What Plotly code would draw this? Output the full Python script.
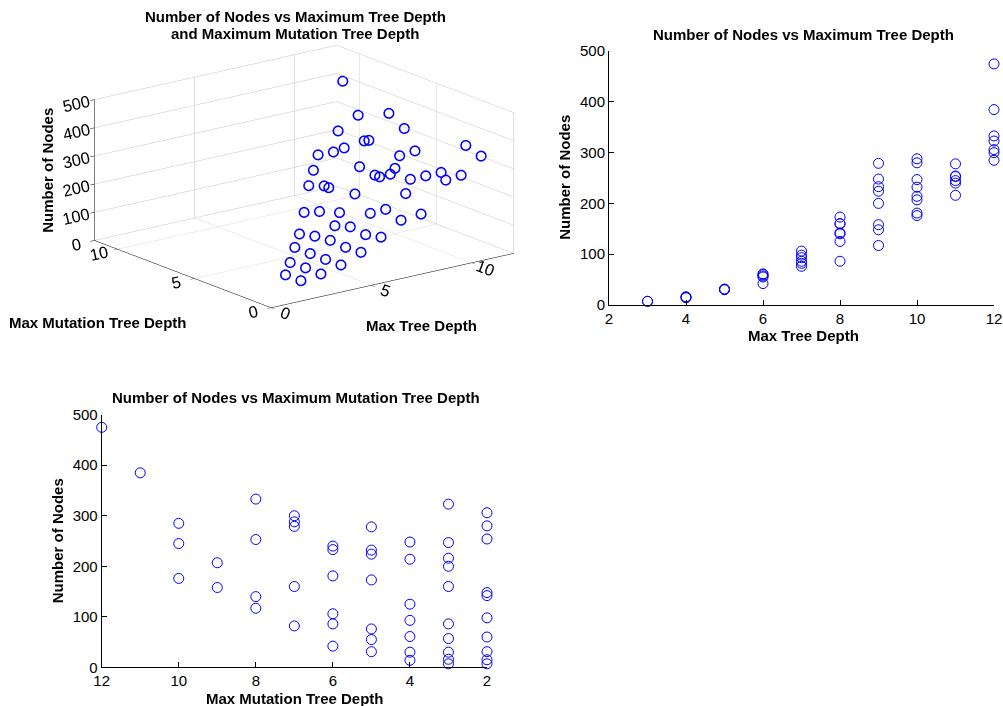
import plotly.graph_objects as go

# ---- data ----
tree_depth = [3, 3,
              4, 4, 4,
              5, 5, 5, 5,
              6, 6, 6, 6, 6,
              7, 7, 7, 7, 7, 7,
              8, 8, 8, 8, 8, 8, 8,
              9, 9, 9, 9, 9, 9, 9, 9,
              10, 10, 10, 10, 10, 10, 10, 10,
              11, 11, 11, 11, 11, 11,
              12, 12, 12, 12, 12, 12, 12]
mutation_depth = [2, 3,
                  2, 3, 4,
                  2, 3, 4, 5,
                  2, 3, 4, 5, 6,
                  2, 3, 4, 5, 6, 7,
                  2, 3, 4, 5, 6, 7, 8,
                  2, 3, 4, 5, 6, 7, 8, 9,
                  2, 3, 4, 5, 6, 7, 9, 10,
                  2, 3, 5, 6, 8, 10,
                  2, 3, 7, 8, 10, 11, 12]
num_nodes = [7, 7,
             15, 16, 14,
             31, 30, 30, 31,
             60, 57, 61, 55, 42,
             98, 86, 93, 76, 106, 82,
             142, 160, 125, 173, 86, 160, 140,
             148, 200, 248, 224, 233, 279, 117, 158,
             280, 247, 214, 232, 181, 288, 207, 176,
             254, 216, 278, 240, 253, 245,
             306, 323, 300, 333, 285, 385, 475]

title_3d_lines = ["Number of Nodes vs Maximum Tree Depth", "and Maximum Mutation Tree Depth"]
title_tree = "Number of Nodes vs Maximum Tree Depth"
title_mut = "Number of Nodes vs Maximum Mutation Tree Depth"
label_tree = "Max Tree Depth"
label_mut = "Max Mutation Tree Depth"
label_nodes = "Number of Nodes"

FONT = "Liberation Sans, Arial, Helvetica, sans-serif"
BLUE = "#0000ff"
W, H = 1003, 706
# the page shows the figure inset by 8px and shrunk to 987x690, so map
# target page pixels through that
OFF = 8
VW, VH = 987, 690

def px(x):
    return (x - OFF) / VW

def py(y):
    return 1 - (y - OFF) / VH

marker = dict(symbol="circle-open", size=10, color=BLUE, line=dict(color=BLUE, width=1))

fig = go.Figure()

# 3D scatter
fig.add_trace(go.Scatter3d(
    x=tree_depth, y=mutation_depth, z=num_nodes, mode="markers",
    marker=dict(symbol="circle-open", size=6, color=BLUE, line=dict(color=BLUE, width=1)),
    showlegend=False, hoverinfo="skip"))

# Nodes vs tree depth
fig.add_trace(go.Scatter(x=tree_depth, y=num_nodes, mode="markers", marker=marker,
                         xaxis="x", yaxis="y", cliponaxis=False, showlegend=False))
# Nodes vs mutation depth
fig.add_trace(go.Scatter(x=mutation_depth, y=num_nodes, mode="markers", marker=marker,
                         xaxis="x2", yaxis="y2", cliponaxis=False, showlegend=False))

ax2d = dict(showline=True, linecolor="black", linewidth=1, ticks="inside", ticklen=5,
            tickcolor="black", showgrid=False, zeroline=False, mirror=False,
            ticklabeloverflow="allow",
            tickfont=dict(family=FONT, size=15, color="black"))

ax3d = dict(showbackground=False, showgrid=True, gridcolor="#c4c4c4", gridwidth=1,
            showline=True, linecolor="black", linewidth=1, ticks="outside", ticklen=5,
            tickcolor="black", zeroline=False, showspikes=False, title=dict(text=""),
            tickfont=dict(family=FONT, size=14, color="black"))

EYE = 2.0
SC = 1.72
CX, CY = 304, 175.5  # page position of the 3D box centre
fig.update_layout(
    width=W, height=H, margin=dict(l=0, r=0, t=0, b=0),
    paper_bgcolor="white", plot_bgcolor="white",
    font=dict(family=FONT, size=15, color="black"),
    xaxis=dict(domain=[px(609), px(994)], range=[2, 12], tickvals=[2, 4, 6, 8, 10, 12],
               anchor="y", **ax2d),
    yaxis=dict(domain=[py(304.3), py(50.3)], range=[0, 500], tickvals=[0, 100, 200, 300, 400, 500],
               anchor="x", **ax2d),
    xaxis2=dict(domain=[px(101.7), px(487)], range=[12, 2], tickvals=[2, 4, 6, 8, 10, 12],
                anchor="y2", **ax2d),
    yaxis2=dict(domain=[py(667.3), py(414.3)], range=[0, 500], tickvals=[0, 100, 200, 300, 400, 500],
                anchor="x2", **ax2d),
    scene=dict(
        domain=dict(x=[px(CX - 256), px(CX + 256)], y=[py(CY + 161.5), py(CY - 161.5)]),
        xaxis=dict(range=[0, 12.1], tickvals=[0, 5, 10], **ax3d),
        yaxis=dict(range=[0, 11.5], tickvals=[0, 5, 10], **ax3d),
        zaxis=dict(range=[0, 500], tickvals=[0, 100, 200, 300, 400, 500], **ax3d),
        aspectmode="manual", aspectratio=dict(x=12.1 / 11 * SC, y=11.5 / 11 * SC, z=0.53 * SC),
        camera=dict(eye=dict(x=-0.582 * EYE, y=-0.758 * EYE, z=0.292 * EYE),
                    up=dict(x=0, y=0, z=1), center=dict(x=0, y=0, z=0),
                    projection=dict(type="orthographic")),
        bgcolor="rgba(0,0,0,0)",
    ),
)

bold = dict(family=FONT, size=15, color="black", weight="bold")
annotations = [
    dict(text=title_3d_lines[0], x=px(295), y=py(16), font=bold),
    dict(text=title_3d_lines[1], x=px(295), y=py(33), font=bold),
    dict(text=title_tree, x=px(803), y=py(34), font=bold),
    dict(text=title_mut, x=px(295.5), y=py(396.7), font=bold),
    dict(text=label_tree, x=px(803), y=py(335), font=bold),
    dict(text=label_nodes, x=px(565), y=py(177), font=bold, textangle=-90),
    dict(text=label_mut, x=px(295), y=py(698), font=bold),
    dict(text=label_nodes, x=px(57), y=py(541), font=bold, textangle=-90),
    dict(text=label_mut, x=px(98), y=py(322), font=bold),
    dict(text=label_tree, x=px(421), y=py(325), font=bold),
    dict(text=label_nodes, x=px(48), y=py(170), font=bold, textangle=-90),
]
for a in annotations:
    a.update(xref="paper", yref="paper", xanchor="center", yanchor="middle", showarrow=False)
fig.update_layout(annotations=annotations)

fig.write_html("out.html")
